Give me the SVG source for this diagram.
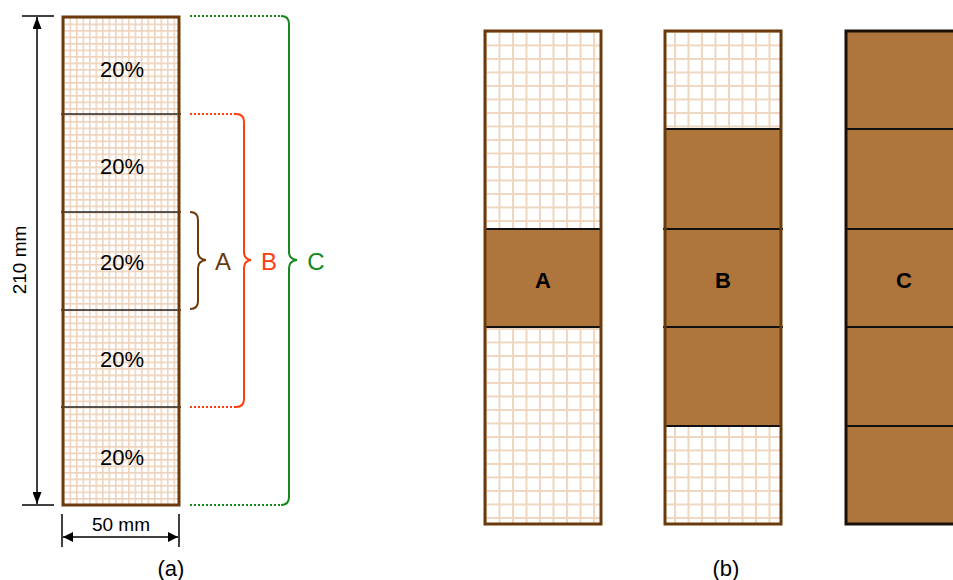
<svg xmlns="http://www.w3.org/2000/svg" width="953" height="580" viewBox="0 0 953 580">
<defs>
<pattern id="gridS" patternUnits="userSpaceOnUse" x="63" y="17" width="6.5" height="6.5">
<rect width="6.5" height="6.5" fill="#fff"/>
<path d="M0 0.75H6.5M0.75 0V6.5" stroke="#EDD3BC" stroke-width="1.6"/>
</pattern>
<pattern id="gridL" patternUnits="userSpaceOnUse" x="485" y="31" width="13.5" height="13.5">
<rect width="13.5" height="13.5" fill="#fff"/>
<path d="M0 1H13.5M1 0V13.5" stroke="#EFD6BF" stroke-width="2"/>
</pattern>
<marker id="ah" viewBox="0 0 10 10" refX="10" refY="5" markerWidth="10" markerHeight="10" markerUnits="userSpaceOnUse" orient="auto-start-reverse">
<path d="M0 0L10 5L0 10Z" fill="#000"/>
</marker>
<marker id="ahv" viewBox="0 0 12 9" refX="12" refY="4.5" markerWidth="12" markerHeight="9" markerUnits="userSpaceOnUse" orient="auto-start-reverse">
<path d="M0 0L12 4.5L0 9Z" fill="#000"/>
</marker>
</defs>
<style>
text{font-family:"Liberation Sans",Arial,sans-serif;}
.pct{font-size:22px;fill:#000;text-anchor:middle;dominant-baseline:central;}
.cap{font-size:22px;fill:#000;text-anchor:middle;}
.lab{font-size:22px;font-weight:bold;fill:#000;text-anchor:middle;dominant-baseline:central;}
.frame{fill:none;stroke:#6A3A0C;stroke-width:3;}
.div{stroke:#222;stroke-width:1.5;}
.bdiv{stroke:#111;stroke-width:2;}
.brown{fill:#AE763D;stroke:#111;stroke-width:2;}
.dim{stroke:#000;stroke-width:1.5;fill:none;}
.brl{font-size:24px;stroke:none;text-anchor:middle;dominant-baseline:central;}
</style>

<g id="strip-a">
<rect x="63" y="17" width="116" height="488" fill="url(#gridS)"/>
<line class="div" x1="61" y1="114" x2="181" y2="114"/>
<line class="div" x1="61" y1="212" x2="181" y2="212"/>
<line class="div" x1="61" y1="310" x2="181" y2="310"/>
<line class="div" x1="61" y1="407" x2="181" y2="407"/>
<rect class="frame" x="63" y="17" width="116" height="488"/>
<text class="pct" x="122" y="69">20%</text>
<text class="pct" x="122" y="166">20%</text>
<text class="pct" x="122" y="262">20%</text>
<text class="pct" x="122" y="359">20%</text>
<text class="pct" x="122" y="457">20%</text>
</g>

<g id="dimensions">
<line class="dim" x1="22" y1="16" x2="54" y2="16"/>
<line class="dim" x1="22" y1="505" x2="54" y2="505"/>
<line class="dim" x1="37" y1="17" x2="37" y2="504" marker-start="url(#ahv)" marker-end="url(#ahv)"/>
<text x="0" y="0" transform="translate(26 260) rotate(-90)" font-size="19" text-anchor="middle">210 mm</text>
<line class="dim" x1="62" y1="514" x2="62" y2="547"/>
<line class="dim" x1="179" y1="514" x2="179" y2="547"/>
<line class="dim" x1="63" y1="537" x2="178" y2="537" marker-start="url(#ah)" marker-end="url(#ah)"/>
<text x="121" y="531" font-size="19" text-anchor="middle">50 mm</text>
<text class="cap" x="171" y="576">(a)</text>
</g>

<g id="braces" fill="none" stroke-width="2">
<g id="brace-c">
<path d="M190 16H281" stroke="#138A1A" stroke-dasharray="2 2"/>
<path d="M190 505H281" stroke="#138A1A" stroke-dasharray="2 2"/>
<path d="M281 16Q289 16 289 24V252Q289 259 297 260Q289 261 289 268V497Q289 505 281 505" stroke="#138A1A"/>
<text class="brl" x="316" y="261" fill="#138A1A">C</text>
</g>
<g id="brace-b">
<path d="M190 114H236" stroke="#FF3D0F" stroke-dasharray="2 2"/>
<path d="M190 407H236" stroke="#FF3D0F" stroke-dasharray="2 2"/>
<path d="M236 114Q244 114 244 122V252Q244 259 251 260Q244 261 244 268V399Q244 407 236 407" stroke="#FF3D0F"/>
<text class="brl" x="269" y="261" fill="#FF3D0F">B</text>
</g>
<g id="brace-a">
<path d="M190 212Q198 212 198 220V252Q198 259 206 260Q198 261 198 268V301Q198 309 190 309" stroke="#6A3A0C"/>
<text class="brl" x="223" y="261" fill="#6A3A0C">A</text>
</g>
</g>

<g id="strip-A">
<rect x="485" y="31" width="116" height="493" fill="url(#gridL)"/>
<rect class="brown" x="485" y="229" width="116" height="98"/>
<rect class="frame" x="485" y="31" width="116" height="493"/>
<text class="lab" x="543" y="280">A</text>
</g>

<g id="strip-B">
<rect x="665" y="31" width="116" height="493" fill="url(#gridL)"/>
<rect class="brown" x="665" y="129" width="116" height="297"/>
<line class="bdiv" x1="663" y1="229" x2="783" y2="229"/>
<line class="bdiv" x1="663" y1="327" x2="783" y2="327"/>
<rect class="frame" x="665" y="31" width="116" height="493"/>
<text class="lab" x="723" y="280">B</text>
</g>

<g id="strip-C">
<rect x="846" y="31" width="116" height="493" fill="#AE763D"/>
<line class="bdiv" x1="845" y1="129" x2="953" y2="129"/>
<line class="bdiv" x1="845" y1="229" x2="953" y2="229"/>
<line class="bdiv" x1="845" y1="327" x2="953" y2="327"/>
<line class="bdiv" x1="845" y1="426" x2="953" y2="426"/>
<rect x="846" y="31" width="116" height="493" fill="none" stroke="#1a1008" stroke-width="3"/>
<text class="lab" x="904" y="280">C</text>
</g>

<text class="cap" x="726" y="576">(b)</text>
</svg>
